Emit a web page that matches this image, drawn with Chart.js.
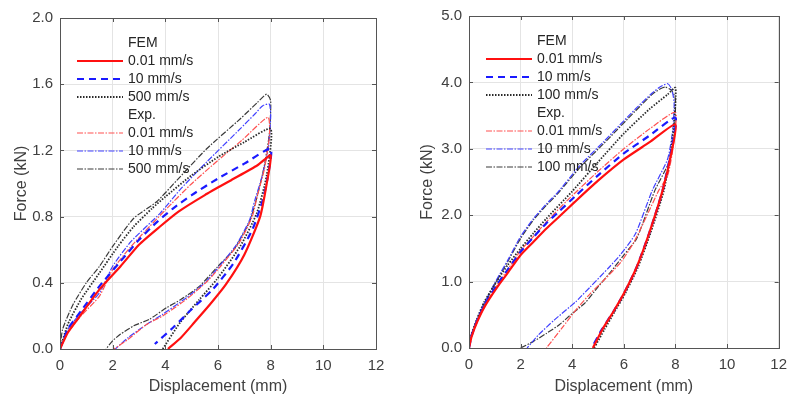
<!DOCTYPE html>
<html>
<head>
<meta charset="utf-8">
<script src="https://cdn.jsdelivr.net/npm/chart.js@4.4.1/dist/chart.umd.min.js"></script>
<style>
    html, body { margin: 0; padding: 0; background: #fff; }
    #wrap { position: relative; width: 795px; height: 396px; }
    .panel { position: absolute; top: 0; width: 395px; height: 396px; }
</style>
</head>
<body>
<div id="wrap">
    <div class="panel" style="left:0"><canvas id="leftChart"></canvas></div>
    <div class="panel" style="left:400px"><canvas id="rightChart"></canvas></div>
</div>
<script>
// tick labels / legend text
const xTicks = [0, 2, 4, 6, 8, 10, 12];
const leftYTicks = [0.0, 0.4, 0.8, 1.2, 1.6, 2.0];
const rightYTicks = [0.0, 1.0, 2.0, 3.0, 4.0, 5.0];
const leftSpeeds = ['0.01 mm/s', '10 mm/s', '500 mm/s'];
const rightSpeeds = ['0.01 mm/s', '10 mm/s', '100 mm/s'];

// left panel, [displacement mm, force kN] (loading then unloading)
const leftFem001 = [[0,0],[0.3,0.1],[0.76,0.2],[1.5,0.36],[2.3,0.5],[3,0.63],[3.8,0.74],[4.5,0.83],[5.5,0.93],[6.5,1.02],[7.5,1.11],[8,1.17],
    [7.85,1.0],[7.6,0.8],[7.0,0.57],[6.3,0.39],[5.7,0.27],[5.1,0.16],[4.6,0.07],[4.1,0]];
const leftFem10 = [[0,0],[0.3,0.12],[0.8,0.23],[1.5,0.38],[2.3,0.53],[3,0.66],[3.7,0.77],[4.3,0.85],[5,0.93],[6,1.03],[7,1.12],[8,1.21],
    [7.9,1.05],[7.7,0.9],[7.3,0.72],[6.6,0.52],[5.8,0.36],[5,0.24],[4.3,0.13],[3.6,0.03]];
const leftFem500 = [[0,0],[0.3,0.15],[0.8,0.3],[1.5,0.46],[2.2,0.62],[2.8,0.74],[3.5,0.85],[4,0.92],[5,1.05],[6,1.16],[7,1.25],[8,1.33],
    [7.85,1.05],[7.47,0.82],[6.84,0.62],[5.95,0.42],[5.3,0.3],[4.56,0.16],[3.9,0]];
const leftExp001 = [[0,0],[0.3,0.1],[0.8,0.2],[1.5,0.32],[2.0,0.48],[2.7,0.62],[3.4,0.74],[4,0.84],[4.94,0.99],[6,1.14],[6.9,1.26],[7.9,1.4],
    [7.95,1.28],[7.75,1.08],[7.5,0.93],[7.3,0.8],[6.8,0.64],[6.1,0.5],[5.6,0.41],[4.8,0.3],[3.9,0.2],[3.3,0.15],[2.6,0.06],[2.05,0]];
const leftExp10 = [[0,0],[0.3,0.12],[0.8,0.22],[1.5,0.34],[2.0,0.5],[2.7,0.65],[3.8,0.82],[4.6,0.97],[5.57,1.13],[6.84,1.33],[7.4,1.42],[7.7,1.47],[7.95,1.48],
    [8,1.4],[7.9,1.2],[7.65,1.03],[7.4,0.9],[7.2,0.78],[6.7,0.63],[6.05,0.5],[5.5,0.4],[4.8,0.31],[3.9,0.21],[3.3,0.15],[2.6,0.07],[2.1,0]];
const leftExp500 = [[0,0],[0.1,0.12],[0.5,0.27],[1,0.4],[1.5,0.5],[2,0.62],[2.8,0.79],[3.67,0.89],[4.5,1.03],[5.57,1.21],[6.84,1.39],[7.5,1.49],[7.85,1.54],
    [8,1.5],[7.95,1.3],[7.75,1.1],[7.5,0.93],[7.2,0.77],[6.6,0.6],[6.0,0.5],[5.3,0.38],[4.6,0.3],[4.05,0.25],[3.4,0.18],[2.8,0.14],[2.3,0.09],[2.0,0.05],[1.75,0]];

// right panel
const rightFem001 = [[0,0],[0.1,0.17],[0.3,0.38],[0.6,0.62],[1.1,0.92],[1.5,1.13],[2,1.4],[2.5,1.6],[3,1.8],[3.5,1.98],[4.1,2.2],[5,2.52],[6,2.84],[7,3.1],[8,3.37],
    [7.85,2.95],[7.5,2.37],[7.0,1.75],[6.5,1.22],[6.0,0.82],[5.6,0.55],[5.2,0.3],[4.8,0]];
const rightFem10 = [[0,0],[0.1,0.18],[0.3,0.4],[0.6,0.65],[1.1,0.96],[1.5,1.18],[2,1.45],[2.5,1.67],[3,1.88],[3.5,2.06],[4.1,2.28],[5,2.6],[6,2.93],[7,3.2],[8,3.47],
    [7.85,3.0],[7.5,2.37],[7.0,1.75],[6.5,1.22],[6.0,0.82],[5.6,0.55],[5.15,0.28],[4.75,0]];
const rightFem100 = [[0,0],[0.1,0.2],[0.3,0.43],[0.6,0.7],[1.1,1.02],[1.5,1.25],[2,1.5],[2.5,1.73],[3,1.95],[4,2.36],[5,2.8],[6,3.23],[7,3.6],[7.7,3.82],[8,3.92],
    [7.95,3.4],[7.8,2.9],[7.55,2.37],[7.05,1.75],[6.55,1.22],[6.05,0.82],[5.65,0.55],[5.25,0.28],[4.85,0]];
const rightExp001 = [[0,0],[0.1,0.18],[0.5,0.55],[1,0.9],[1.5,1.18],[2,1.47],[2.5,1.68],[3,1.9],[3.8,2.22],[5,2.66],[6,3.0],[7,3.3],[8,3.55],
    [7.9,3.0],[7.7,2.6],[7.35,2.37],[6.9,2.0],[6.4,1.6],[5.9,1.3],[5.3,1.05],[4.7,0.82],[4.2,0.6],[3.6,0.3],[3.0,0]];
const rightExp10 = [[0,0],[0.1,0.22],[0.5,0.6],[1,0.98],[1.5,1.32],[2,1.68],[2.5,1.95],[3,2.17],[3.43,2.34],[4.3,2.75],[5.2,3.1],[6.45,3.6],[7.1,3.84],[7.4,3.93],[7.7,3.98],[7.85,3.9],[7.95,3.7],
    [7.9,3.3],[7.7,2.85],[7.1,2.37],[6.45,1.72],[5.9,1.42],[5.44,1.22],[4.7,0.92],[4.25,0.74],[4.15,0.7],[3.3,0.42],[2.7,0.2],[2.25,0]];
const rightExp100 = [[0,0],[0.1,0.2],[0.5,0.58],[1,0.96],[1.5,1.3],[2,1.65],[2.5,1.93],[3,2.15],[3.43,2.32],[4.3,2.72],[5.2,3.07],[6.45,3.57],[7.1,3.82],[7.4,3.9],[7.6,3.93],[7.85,3.88],[8,3.75],
    [7.95,3.2],[7.75,2.8],[7.2,2.37],[6.5,1.65],[6.0,1.4],[5.5,1.15],[5.0,0.92],[4.5,0.68],[4.0,0.52],[3.5,0.35],[3.0,0.22],[2.5,0.1],[2.0,0]];

const FONT = '"Liberation Sans", Arial, sans-serif';
const TEXT = '#404040';

// line styles: FEM solid / dashed / dotted, Exp thin dash-dot
const styles = [
    { borderColor: '#ff1010', borderWidth: 2.2, borderDash: [] },
    { borderColor: '#1a1aff', borderWidth: 2.2, borderDash: [7, 5] },
    { borderColor: '#2a2a2a', borderWidth: 1.8, borderDash: [1.5, 1.5] },
    { borderColor: '#ff5050', borderWidth: 1.2, borderDash: [6, 1.5, 1.5, 1.5] },
    { borderColor: '#4040ff', borderWidth: 1.2, borderDash: [6, 1.5, 1.5, 1.5] },
    { borderColor: '#3a3a3a', borderWidth: 1.2, borderDash: [6, 1.5, 1.5, 1.5] },
];

function makeDatasets(curves, speeds) {
    return curves.map((pts, i) => ({
        label: (i < 3 ? 'FEM ' : 'Exp. ') + speeds[i % 3],
        data: pts.map(p => ({ x: p[0], y: p[1] })),
        showLine: true,
        pointRadius: 0,
        tension: 0.2,
        fill: false,
        ...styles[i],
    }));
}

// box around plot area + inward tick marks
const boxPlugin = {
    id: 'boxPlugin',
    afterDraw(chart) {
        const { ctx, chartArea: a, scales } = chart;
        ctx.save();
        ctx.strokeStyle = '#555';
        ctx.lineWidth = 1;
        ctx.beginPath();
        scales.x.ticks.forEach(t => {
            const px = Math.round(scales.x.getPixelForValue(t.value)) + 0.5;
            ctx.moveTo(px, a.bottom); ctx.lineTo(px, a.bottom - 4);
            ctx.moveTo(px, a.top); ctx.lineTo(px, a.top + 4);
        });
        scales.y.ticks.forEach(t => {
            const py = Math.round(scales.y.getPixelForValue(t.value)) + 0.5;
            ctx.moveTo(a.left, py); ctx.lineTo(a.left + 4, py);
            ctx.moveTo(a.right, py); ctx.lineTo(a.right - 4, py);
        });
        ctx.stroke();
        ctx.strokeRect(Math.round(a.left) + 0.5, Math.round(a.top) + 0.5, Math.round(a.right - a.left), Math.round(a.bottom - a.top));
        ctx.restore();
    }
};

// legend inside plot area with FEM / Exp. headers
const innerLegend = {
    id: 'innerLegend',
    afterDatasetsDraw(chart) {
        const { ctx, chartArea: a } = chart;
        const ds = chart.data.datasets;
        const rows = ['FEM', 0, 1, 2, 'Exp.', 3, 4, 5];
        ctx.save();
        ctx.font = '14px ' + FONT;
        ctx.textBaseline = 'middle';
        ctx.fillStyle = '#262626';
        rows.forEach((r, i) => {
            const y = a.top + 25 + i * 18;
            const tx = a.left + 68;
            if (typeof r === 'string') {
                ctx.fillText(r, tx, y);
                return;
            }
            const d = ds[r];
            ctx.strokeStyle = d.borderColor;
            ctx.lineWidth = d.borderWidth;
            ctx.setLineDash(d.borderDash);
            ctx.beginPath();
            ctx.moveTo(a.left + 17, y);
            ctx.lineTo(a.left + 63, y);
            ctx.stroke();
            ctx.setLineDash([]);
            ctx.fillText(d.label.replace(/^(FEM|Exp\.) /, ''), tx, y);
        });
        ctx.restore();
    }
};

function makeChart(id, curves, speeds, yTicks, yWidth, rightPad, topPad, titlePad, xHeight) {
    const ctx = document.getElementById(id).getContext('2d');
    const yMax = yTicks[yTicks.length - 1];
    return new Chart(ctx, {
        type: 'scatter',
        data: { datasets: makeDatasets(curves, speeds) },
        options: {
            responsive: true,
            maintainAspectRatio: false,
            animation: false,
            layout: { padding: { left: 0, right: rightPad, top: topPad, bottom: 0 } },
            plugins: {
                legend: { display: false },
                tooltip: { enabled: false },
            },
            scales: {
                x: {
                    type: 'linear',
                    min: xTicks[0],
                    max: xTicks[xTicks.length - 1],
                    afterBuildTicks: (s) => { s.ticks = xTicks.map(v => ({ value: v })); },
                    afterFit: (s) => { s.height = xHeight; },
                    grid: { color: '#e4e4e4', drawTicks: false },
                    border: { display: false },
                    ticks: { color: TEXT, font: { family: FONT, size: 15 }, padding: 8, maxRotation: 0 },
                    title: { display: true, text: 'Displacement (mm)', color: TEXT, font: { family: FONT, size: 16 }, padding: { top: 0, bottom: 0 } },
                },
                y: {
                    type: 'linear',
                    min: 0,
                    max: yMax,
                    afterBuildTicks: (s) => { s.ticks = yTicks.map(v => ({ value: v })); },
                    afterFit: (s) => { s.width = yWidth; },
                    grid: { color: '#e4e4e4', drawTicks: false },
                    border: { display: false },
                    ticks: { color: TEXT, font: { family: FONT, size: 15 }, padding: 7, callback: (v) => Number(v).toFixed(1) },
                    title: { display: true, text: 'Force (kN)', color: TEXT, font: { family: FONT, size: 16 }, padding: { top: titlePad, bottom: 0 } },
                },
            },
        },
        plugins: [boxPlugin, innerLegend],
    });
}

makeChart('leftChart', [leftFem001, leftFem10, leftFem500, leftExp001, leftExp10, leftExp500], leftSpeeds, leftYTicks, 60, 19, 18, 12, 47);
makeChart('rightChart', [rightFem001, rightFem10, rightFem100, rightExp001, rightExp10, rightExp100], rightSpeeds, rightYTicks, 69, 8, 15, 18, 48);
</script>
</body>
</html>
